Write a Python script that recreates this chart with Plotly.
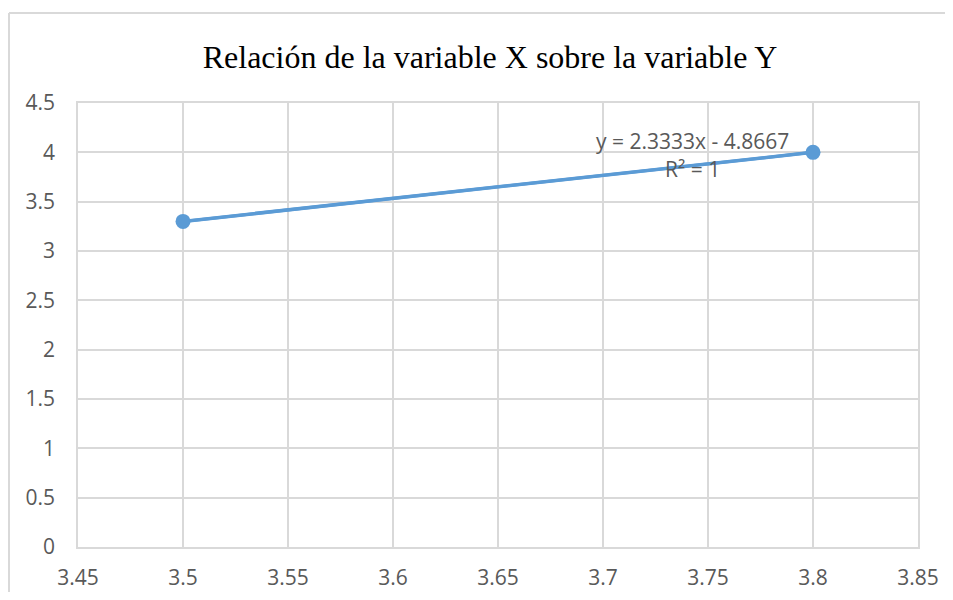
import plotly.graph_objects as go

x_vals = [3.5, 3.8]
y_vals = [3.3, 4.0]
slope = 2.3333
intercept = -4.8667
title_text = "Relación de la variable X sobre la variable Y"
eq_text = "y = 2.3333x - 4.8667"
r2_text = "R² = 1"

blue = "#5B9BD5"
grid = "#D9D9D9"
tick_color = "#595959"

trend_y = [slope * v + intercept for v in x_vals]

# page body has an 8px margin; figure sized to fit viewport without scrolling
W, H = 937, 584
L, R, T, B = 70, 27, 95, 45
pw, ph = W - L - R, H - T - B

fig = go.Figure()
fig.add_trace(go.Scatter(x=x_vals, y=trend_y, mode="lines",
                         line=dict(color="#5B9BD5", width=3), hoverinfo="skip"))
fig.add_trace(go.Scatter(x=x_vals, y=y_vals, mode="lines+markers",
                         line=dict(color=blue, width=3.5),
                         marker=dict(color=blue, size=15)))

fig.add_annotation(x=3.7424, y=4.115, text=eq_text, showarrow=False,
                   font=dict(family="Open Sans", size=21, color=tick_color),
                   xanchor="center", yanchor="middle")
fig.add_annotation(x=3.7424, y=3.831, text=r2_text, showarrow=False,
                   font=dict(family="Open Sans", size=21, color=tick_color),
                   xanchor="center", yanchor="middle")

# outer chart border (top and left visible)
bx = (1 - L) / pw
by = (H - B - 5) / ph
fig.add_shape(type="line", xref="paper", yref="paper",
              x0=bx, x1=1.2, y0=by, y1=by,
              line=dict(color="#D9D9D9", width=2))
fig.add_shape(type="line", xref="paper", yref="paper",
              x0=bx, x1=bx, y0=-0.3, y1=by,
              line=dict(color="#D9D9D9", width=2))

fig.update_layout(
    width=W, height=H,
    margin=dict(l=L, r=R, t=T, b=B, autoexpand=False),
    paper_bgcolor="white", plot_bgcolor="white",
    showlegend=False,
    title=dict(text=title_text, x=(482 - L) / pw, xref="paper", xanchor="center",
               y=1 - 49 / H, yanchor="middle", automargin=False,
               font=dict(family="Liberation Serif", size=32, color="#000000")),
)
fig.update_xaxes(range=[3.45, 3.85], dtick=0.05, tick0=3.45, automargin=False,
                 showgrid=True, gridcolor=grid, gridwidth=1.5,
                 showline=True, mirror=True, linecolor=grid, linewidth=1.5,
                 zeroline=False, ticks="", ticklabelstandoff=11,
                 tickfont=dict(family="Open Sans", size=21, color=tick_color))
fig.update_yaxes(range=[0, 4.5], dtick=0.5, tick0=0, automargin=False,
                 showgrid=True, gridcolor=grid, gridwidth=1.5,
                 showline=True, mirror=True, linecolor=grid, linewidth=1.5,
                 zeroline=False, ticks="", ticklabelstandoff=17,
                 tickfont=dict(family="Open Sans", size=21, color=tick_color))

fig.write_html("out.html")
